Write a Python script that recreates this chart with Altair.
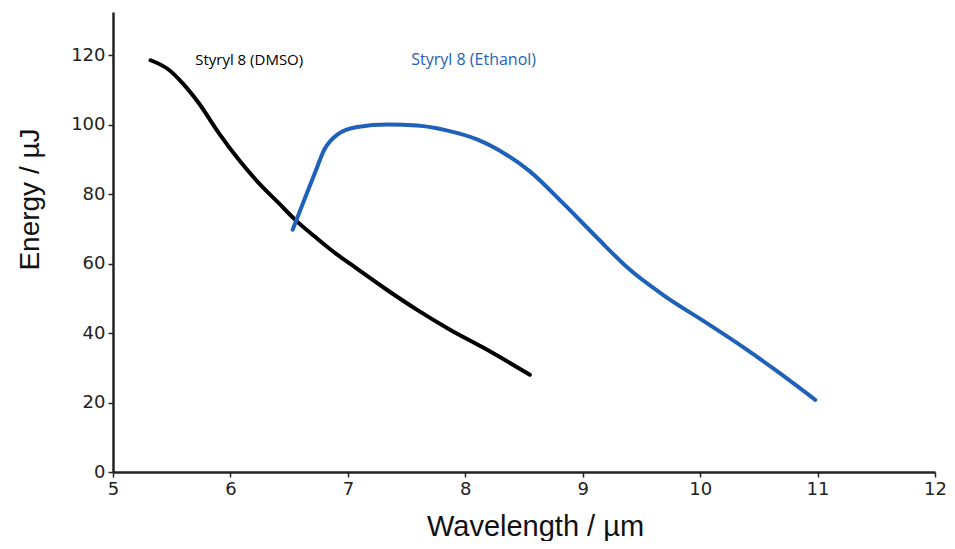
import altair as alt
import pandas as pd

# DMSO series (black)
dmso_wl = [5.32, 5.47, 5.59, 5.73, 5.90, 6.07, 6.24, 6.41, 6.55, 6.74, 6.91, 7.03, 7.31, 7.59, 7.87, 8.16, 8.55]
dmso_e = [118.6, 116.0, 112.1, 106.3, 97.7, 90.0, 83.3, 77.5, 72.7, 67.2, 62.6, 59.7, 53.0, 46.7, 41.0, 35.7, 28.0]

# Ethanol series (blue)
eth_wl = [6.53, 6.63, 6.72, 6.80, 6.91, 7.08, 7.34, 7.59, 7.84, 8.10, 8.35, 8.55, 8.83, 9.11, 9.40, 9.68, 10.07, 10.36, 10.64, 10.98]
eth_e = [69.8, 78.5, 86.2, 92.9, 97.2, 99.4, 100.1, 99.8, 98.4, 95.8, 91.4, 86.6, 77.5, 67.9, 58.3, 51.1, 42.6, 36.1, 29.4, 20.8]

labels = ["Styryl 8 (DMSO)", "Styryl 8 (Ethanol)"]
label_x = [5.70, 7.54]
label_y = [118.6, 118.8]

x_ticks = [5, 6, 7, 8, 9, 10, 11, 12]
y_ticks = [0, 20, 40, 60, 80, 100, 120]

df = pd.DataFrame(
    {"wl": dmso_wl + eth_wl,
     "e": dmso_e + eth_e,
     "series": ["DMSO"] * len(dmso_wl) + ["Ethanol"] * len(eth_wl),
     "order": list(range(len(dmso_wl))) + list(range(len(eth_wl)))}
)
lab = pd.DataFrame({"text": labels, "x": label_x, "y": label_y,
                    "series": ["DMSO", "Ethanol"], "size": [15, 16]})

TITLE_FONT = "Liberation Sans"

xs = alt.Scale(domain=[5, 12], nice=False, zero=False)
ys = alt.Scale(domain=[0, 132.5], nice=False)
cs = alt.Scale(domain=["DMSO", "Ethanol"], range=["#000000", "#1f61b8"])

lines = alt.Chart(df).mark_line(strokeWidth=4, interpolate="monotone", strokeCap="round").encode(
    x=alt.X("wl:Q", scale=xs, axis=alt.Axis(
        values=x_ticks, title="Wavelength  / µm", format="d", labelFlush=False,
        titleX=422, titleY=54, titleBaseline="middle", titleAlign="center",
        titleFont=TITLE_FONT, titleFontSize=29, titleFontWeight="normal", titleColor="#111111")),
    y=alt.Y("e:Q", scale=ys, axis=alt.Axis(
        values=y_ticks, title="Energy / µJ", format="d",
        titleX=-83, titleY=187, titleAngle=-90, titleBaseline="middle", titleAlign="center",
        titleFont=TITLE_FONT, titleFontSize=28, titleFontWeight="normal", titleColor="#111111")),
    color=alt.Color("series:N", scale=cs, legend=None),
    detail="series:N",
    order="order:Q",
)

texts = alt.Chart(lab).mark_text(align="left", baseline="middle", font="Open Sans").encode(
    x=alt.X("x:Q", scale=xs),
    y=alt.Y("y:Q", scale=ys),
    text="text:N",
    size=alt.Size("size:Q", scale=None, legend=None),
    color=alt.Color("series:N", scale=cs, legend=None),
)

chart = alt.layer(lines, texts).properties(
    width=822, height=460,
    autosize=alt.AutoSizeParams(type="none"),
    padding={"left": 105, "top": 4, "right": 12, "bottom": 69},
).configure_view(stroke=None).configure_axis(
    grid=False,
    domainColor="#222222", domainWidth=2.5,
    tickColor="#222222", tickWidth=1.5, tickSize=5,
    labelFont="DejaVu Sans", labelFontSize=18, labelColor="#222222", labelPadding=3,
)

chart.save("out.html", embed_options={"renderer": "svg", "actions": False})
